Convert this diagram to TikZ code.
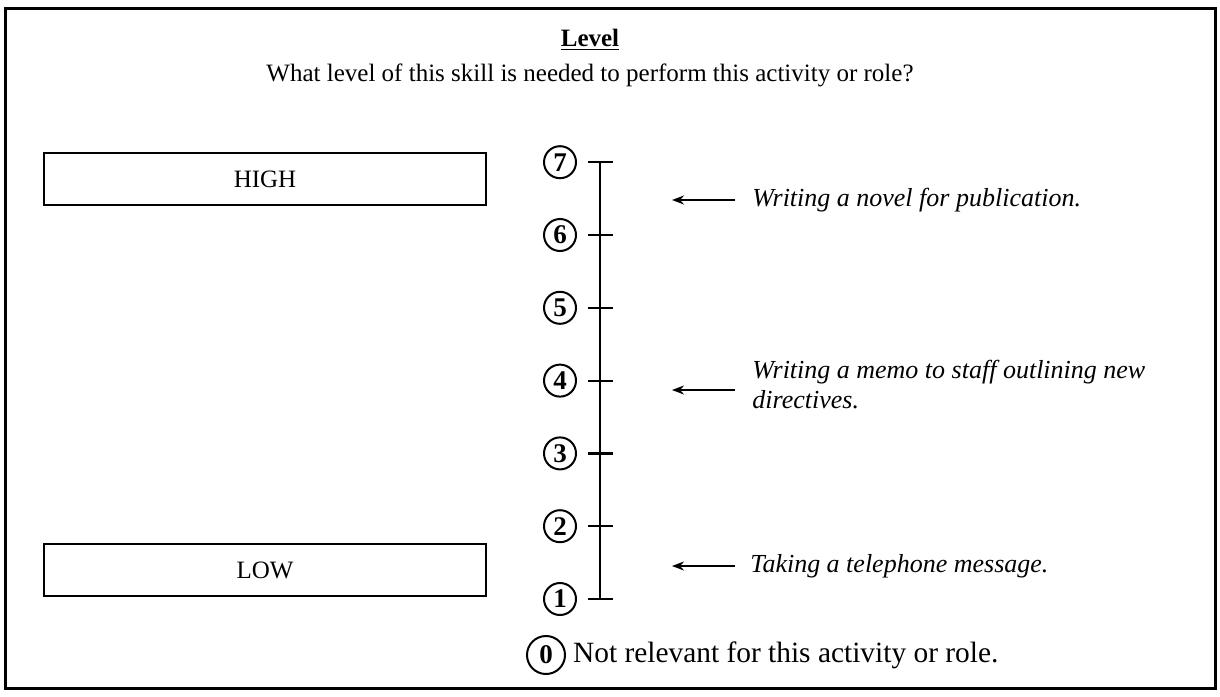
\documentclass[tikz,border=0pt]{standalone}
\usepackage{fontspec}
\setmainfont{Liberation Serif}
\usetikzlibrary{arrows.meta}
\tikzset{
	lvlbox/.style={draw,line width=1pt,minimum width=221pt,minimum height=26pt,inner sep=0pt},
	lvl/.style={draw,circle,line width=1pt,inner sep=0pt,minimum size=16pt,font=\fontsize{13.5pt}{15pt}\selectfont\bfseries},
	example/.style={anchor=west,inner sep=0pt,align=left,font=\fontsize{13pt}{15pt}\selectfont\itshape},
	pointer/.style={-{Stealth[length=6pt,width=4.5pt]},line width=0.9pt}
}
\begin{document}
\begin{tikzpicture}[x=0.5pt,y=-0.5pt,every node/.append style={font=\fontsize{12.5pt}{15pt}\selectfont}]
	\useasboundingbox (0,0) rectangle (1220,696);
	\draw[line width=1.5pt] (5,8) rectangle (1215,688);
	\node (title) at (590,40) {\textbf{\underline{Level}}};
	\node (question) at (590,75) {What level of this skill is needed to perform this activity or role?};
	\node[lvlbox] (high) at (265,179) {HIGH};
	\node[lvlbox] (low) at (265,570) {LOW};
	% the scale
	\foreach \n in {1,...,7} {
		\pgfmathsetmacro\yy{599-(\n-1)*72.8}
		\node[lvl] (c\n) at (560,\yy) {\n};
		\coordinate (t\n) at (600,\yy);
		\draw[line width=1.1pt] (588,\yy) -- (613,\yy);
	}
	\draw[line width=1.3pt] (t1) -- (t7);
	\node[lvl,minimum size=19pt] (c0) at (546,655) {0};
	\node[anchor=west,font=\fontsize{14.7pt}{17pt}\selectfont] (none) at (c0.east) {Not relevant for this activity or role.};
	% examples
	\node[example] (novel) at (752,200) {Writing a novel for publication.};
	\node[example] (memo) at (752,385) {Writing a memo to staff outlining new\\directives.};
	\node[example] (phone) at (750,566) {Taking a telephone message.};
	\coordinate (novelTip) at (672,200);
	\coordinate (memoTip) at (672,390);
	\coordinate (phoneTip) at (672,566);
	\draw[pointer] ([xshift=-8.5pt]novel.west) -- (novelTip);
	\draw[pointer] ([xshift=-8.5pt,yshift=-2.5pt]memo.west) -- (memoTip);
	\draw[pointer] ([xshift=-7.5pt]phone.west) -- (phoneTip);
\end{tikzpicture}
\end{document}
